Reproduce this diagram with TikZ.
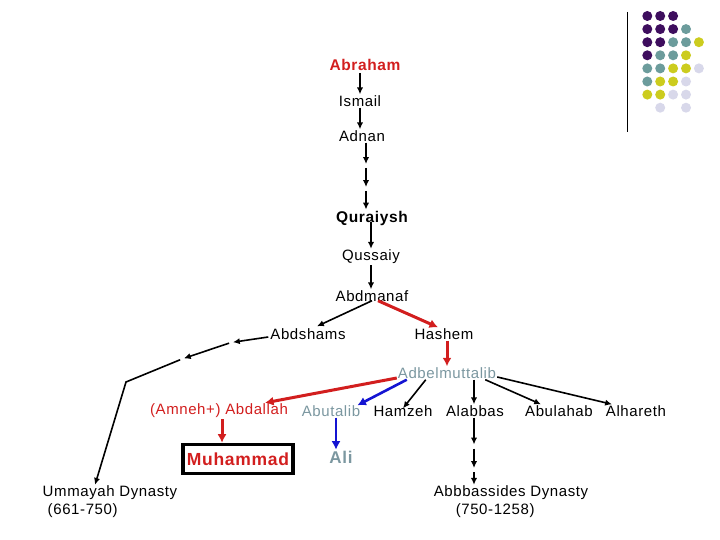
\documentclass[tikz,border=0pt]{standalone}
\usepackage{fontspec}
\setmainfont[LetterSpace=4]{Liberation Sans}
\usepackage{tikz}
\usetikzlibrary{arrows.meta,positioning,calc}
\definecolor{deepred}{HTML}{D21E1E}
\definecolor{slate}{HTML}{7B97A0}
\definecolor{royal}{HTML}{1414D2}
\definecolor{plum}{HTML}{3E0E5E}
\definecolor{sea}{HTML}{6C9C9C}
\definecolor{olive}{HTML}{CCCC1E}
\definecolor{lilac}{HTML}{D8D8EA}

\begin{document}
\begin{tikzpicture}[x=1pt,y=-1pt,every node/.style={font=\fontsize{15}{18}\selectfont,inner sep=1pt,align=center},person/.style={text=black},bold/.style={font=\fontsize{15.5}{18}\selectfont\bfseries},link/.style={-{Latex[length=2.4mm,width=2.2mm]},line width=1.6pt,black},redlink/.style={-{Latex[length=3mm,width=3.2mm]},line width=3pt,deepred},bluelink/.style={-{Latex[length=3mm,width=3.2mm]},line width=2.6pt,royal}]
\useasboundingbox (0,0) rectangle (720,540);
% corner decoration
\draw[line width=0.8pt] (627,12) -- (627,132);
\foreach \c/\r/\col in {0/0/plum,1/0/plum,2/0/plum,0/1/plum,1/1/plum,2/1/plum,3/1/sea,0/2/plum,1/2/plum,2/2/sea,3/2/sea,4/2/olive,0/3/plum,1/3/sea,2/3/sea,3/3/olive,0/4/sea,1/4/sea,2/4/olive,3/4/olive,4/4/lilac,0/5/sea,1/5/olive,2/5/olive,3/5/lilac,0/6/olive,1/6/olive,2/6/lilac,3/6/lilac,1/7/lilac,3/7/lilac}
  \fill[\col] (647.3+12.9*\c,16+13.1*\r) circle (5);
% ancestors
\node[text=deepred,bold] (abraham) at (365,65) {Abraham};
\node[person] (ismail) at (360,101) {Ismail};
\node[person] (adnan) at (362,136) {Adnan};
\node[bold] (quraiysh) at (372,218) {Quraiysh};
\node[person] (qussaiy) at (371,257) {Qussaiy};
\node[person] (abdmanaf) at (372,296) {Abdmanaf};
\node[person] (abdshams) at (308,334) {Abdshams};
\node[person] (hashem) at (444,334) {Hashem};
\node[text=slate] (adbel) at (447,373) {Adbelmuttalib};
% sons of Adbelmuttalib
\node[text=deepred] (abdallah) at (219,411) {(Amneh+) Abdallah};
\node[text=slate] (abutalib) at (331,411) {Abutalib};
\node[person] (hamzeh) at (403,411) {Hamzeh};
\node[person] (alabbas) at (475,411) {Alabbas};
\node[person] (abulahab) at (559,411) {Abulahab};
\node[person] (alhareth) at (636,411) {Alhareth};
\node[draw=black,line width=3.5pt,text=deepred,font=\fontsize{17.5}{20}\selectfont\bfseries,minimum width=110pt,minimum height=29pt] (muhammad) at (238,459) {Muhammad};
\node[text=slate,font=\fontsize{17}{20}\selectfont\bfseries] (ali) at (341,457) {Ali};
\node[person,align=left] (ummayah) at (110,502) {Ummayah Dynasty\\\hspace{5pt}(661-750)};
\node[person,align=left] (abbas) at (511,502) {Abbbassides Dynasty\\\hspace{22pt}(750-1258)};
% helper points
\coordinate (g1) at (366,166);
\coordinate (g2) at (366,189);
\coordinate (u1) at (231,342.5);
\coordinate (u2) at (182,359);
\coordinate (bend) at (126,382);
\coordinate (h1) at (474,446.5);
\coordinate (h2) at (474,470);
% main line
\draw[link] ([yshift=-1pt]abraham.south -| ismail) -- (ismail.north);
\draw[link] (ismail.south) -- (ismail.south |- adnan.north);
\draw[link,shorten >=2pt] (adnan.south -| g1) -- (g1);
\draw[link,shorten <=2pt,shorten >=2pt] (g1) -- (g2);
\draw[link,shorten <=2pt] (g2) -- (g2 |- quraiysh.north);
\draw[link] ([yshift=4pt]quraiysh.south -| qussaiy) -- (qussaiy.north);
\draw[link] (qussaiy.south) -- (qussaiy.south |- abdmanaf.north);
\draw[link] ([yshift=2pt]abdmanaf.south) -- ([xshift=9pt,yshift=1pt]abdshams.north);
\draw[redlink] ([xshift=6pt,yshift=2pt]abdmanaf.south) -- ([xshift=-6pt]hashem.north);
% Ummayah branch
\draw[link,shorten >=2pt] ([xshift=-1pt,yshift=-3pt]abdshams.west) -- (u1);
\draw[link,shorten <=2pt,shorten >=2pt] (u1) -- (u2);
\draw[link,shorten <=2pt] (u2) -- (bend) -- ([xshift=-15pt]ummayah.north);
% Hashem branch
\draw[redlink] (hashem.south -| adbel) -- (adbel.north);
\draw[redlink] ([yshift=-5pt]adbel.west) -- ([xshift=46pt]abdallah.north);
\draw[bluelink] ([xshift=10pt]adbel.south west) -- ([xshift=-4pt,yshift=-1pt]abutalib.north east);
\draw[link] ([xshift=29pt]adbel.south west) -- ([yshift=-4pt]hamzeh.north);
\draw[link] (adbel.south -| h1) -- (alabbas.north -| h1);
\draw[link] ([xshift=-12pt]adbel.south east) -- ([xshift=-18pt]abulahab.north);
\draw[link] ([yshift=-4pt]adbel.east) -- ([xshift=-24pt]alhareth.north);
\draw[redlink] ([xshift=3pt]abdallah.south) -- ([xshift=3pt]abdallah.south |- muhammad.north);
\draw[bluelink] ([xshift=5pt]abutalib.south) -- ([xshift=5pt]abutalib.south |- ali.north);
% Abbassides line
\draw[link,shorten >=2pt] (alabbas.south -| h1) -- (h1);
\draw[link,shorten <=2pt,shorten >=2pt] (h1) -- (h2);
\draw[link,shorten <=2pt] (h2) -- (h2 |- abbas.north);
\end{tikzpicture}
\end{document}
